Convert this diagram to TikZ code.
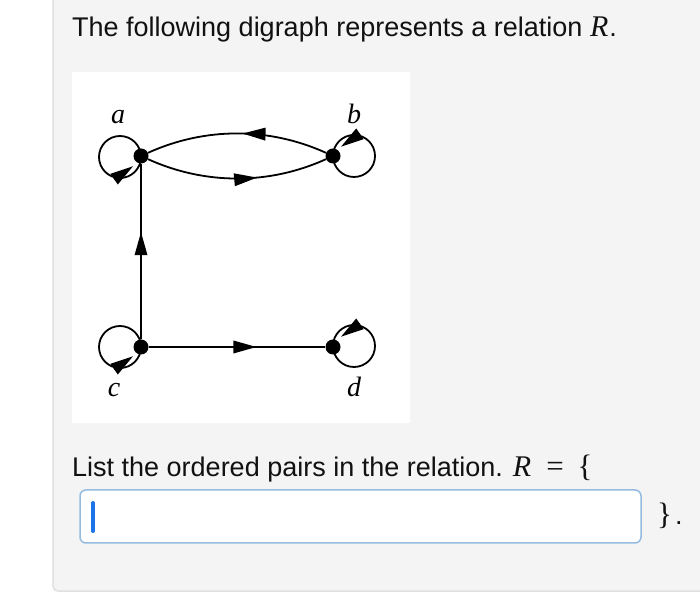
\documentclass[tikz,border=0pt]{standalone}
\usepackage{fontspec}
\setmainfont{Liberation Sans}
\newfontfamily\labfont{Liberation Serif}
\usetikzlibrary{arrows.meta,decorations.markings,calc}
\definecolor{panel}{HTML}{F4F4F4}
\definecolor{panelline}{HTML}{E0E0E0}
\definecolor{boxblue}{HTML}{94BCE0}
\definecolor{cursorblue}{HTML}{1A73E8}
\definecolor{ink}{HTML}{111111}
\newcommand{\Rvar}{{\labfont\itshape\fontsize{30}{32}\selectfont R}}
\newcommand{\sym}[1]{{\labfont\fontsize{31}{32}\selectfont #1}}
\tikzset{
  edge/.style={line width=1.8pt, draw=black},
  tri/.tip={Triangle[length=23pt,width=12.5pt]},
  midarrow/.style={decoration={markings,mark=at position #1 with {\arrow{tri}}},postaction={decorate}},
  dot/.style={circle, fill=black, inner sep=0pt, minimum size=15pt},
  lab/.style={font=\labfont\itshape\fontsize{28}{30}\selectfont, anchor=base, inner sep=0pt},
  txt/.style={font=\fontsize{27}{32}\selectfont, text=ink, anchor=base west, inner sep=0pt}
}
\begin{document}
\begin{tikzpicture}[x=1pt,y=1pt]
\useasboundingbox (0,0) rectangle (700,596);
\fill[white] (0,0) rectangle (700,596);
\filldraw[fill=panel, draw=panelline, line width=1.5pt, rounded corners=5pt] (53,5) rectangle (720,620);
% question text
\node[txt] (title) at (72,559) {The following digraph represents a relation \Rvar\kern1pt.};
% diagram area
\fill[white] (72,173) rectangle (410,524);
\node[dot] (a) at (141,440) {};
\node[dot] (b) at (333,440) {};
\node[dot] (c) at (141,249) {};
\node[dot] (d) at (333,249) {};
\node[lab] (la) at (118,472) {a};
\node[lab] (lb) at (354,472) {b};
\node[lab] (lc) at (114,199) {c};
\node[lab] (ld) at (354,199) {d};
\coordinate (ca) at (120,439);
\coordinate (cb) at (354,440);
\coordinate (cc) at (120,249);
\coordinate (cd) at (354,250);
% edges
\draw[edge, midarrow=0.61] (a) .. controls +(64,-29) and +(-64,-29) .. (b);
\draw[edge, midarrow=0.47] (b) .. controls +(-64,29) and +(64,29) .. (a);
\draw[edge, midarrow=0.61] (c) -- (a);
\draw[edge, midarrow=0.61] (c) -- (d);
% loops
\draw[edge] (ca) circle[radius=21];
\draw[edge,-tri] ($(ca)+(255:23)$) -- ($(ca)+(325:16)$);
\draw[edge] (cb) circle[radius=21];
\draw[edge,-tri] ($(cb)+(75:23)$) -- ($(cb)+(145:16)$);
\draw[edge] (cc) circle[radius=21];
\draw[edge,-tri] ($(cc)+(255:23)$) -- ($(cc)+(325:16)$);
\draw[edge] (cd) circle[radius=21];
\draw[edge,-tri] ($(cd)+(75:23)$) -- ($(cd)+(145:16)$);
% answer prompt
\node[txt] (prompt) at (72,119) {List the ordered pairs in the relation. \Rvar\kern15pt\sym{=}\kern14pt\sym{\{}};
\filldraw[fill=white, draw=boxblue, line width=1.5pt, rounded corners=6pt] (80,53) rectangle (641,106);
\draw[cursorblue, line width=4pt, line cap=round] (93,93) -- (93,65);
\node[txt] (close) at (657,71) {\sym{\}}\kern3pt.};
\end{tikzpicture}
\end{document}
